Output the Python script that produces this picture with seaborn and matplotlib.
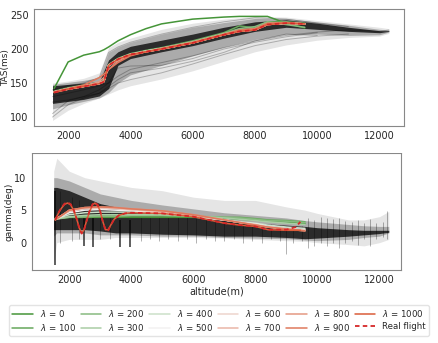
import numpy as np
import matplotlib
matplotlib.use("Agg")
import matplotlib.pyplot as plt
import seaborn as sns
from matplotlib.patches import Rectangle

# ---- data ----
lambdas = [0, 100, 200, 300, 400, 500, 600, 700, 800, 900, 1000]

# black cloud of simulated flights, TAS panel (outer / mid / core envelopes)
band_alt = [1500, 2000, 2500, 3000, 3300, 3600, 4000, 5000, 6000, 7000, 8000, 9000, 10000, 11000, 12000, 12300]
tas_outer_lo = [95, 110, 120, 128, 134, 140, 146, 156, 168, 182, 196, 206, 213, 217, 219, 223]
tas_outer_hi = [150, 153, 157, 165, 202, 210, 216, 229, 238, 244, 248, 247, 242, 237, 232, 230]
tas_mid_lo = [112, 118, 123, 128, 136, 150, 162, 176, 190, 203, 214, 222, 222, 220, 221, 225]
tas_mid_hi = [148, 151, 154, 158, 195, 203, 210, 222, 232, 239, 245, 245, 240, 235, 229, 228]
tas_core_lo = [120, 123, 126, 131, 142, 176, 186, 196, 205, 216, 226, 232, 229, 226, 224, 226]
tas_core_hi = [146, 148, 150, 152, 184, 196, 204, 213, 222, 232, 240, 243, 238, 232, 227, 227]

# a few single grey flights (0 = flight already ended)
tas_trace_a = [100, 118, 128, 135, 142, 150, 155, 165, 178, 192, 205, 214, 219, 222, 0, 0]
tas_trace_b = [130, 135, 140, 146, 150, 160, 170, 180, 190, 202, 212, 220, 225, 228, 226, 228]
tas_trace_c = [140, 146, 150, 158, 195, 203, 210, 222, 232, 240, 246, 244, 238, 233, 0, 0]
tas_trace_d = [122, 125, 130, 135, 145, 155, 165, 172, 182, 195, 212, 222, 220, 0, 0, 0]
tas_trace_e = [105, 124, 130, 140, 150, 172, 175, 176, 186, 200, 210, 218, 224, 0, 0, 0]

# black cloud, gamma panel
g_alt = [1500, 1600, 2000, 2500, 3000, 3500, 4000, 5000, 6000, 7000, 8000, 9000, 9600, 10000, 11000, 11500, 12000, 12300]
g_outer_lo = [-3, 0, 0.5, 0.5, 0.5, 0.8, 0.8, 0.8, 0.8, 0.7, 0.5, 0.3, 0.2, 0.0, -0.3, -0.5, 0, 0.5]
g_outer_hi = [11, 13, 11, 10, 9.5, 9, 8.5, 8, 7, 6.5, 6.5, 5.5, 5, 4.5, 3.5, 3.5, 4, 4.8]
g_mid_lo = [1, 1.5, 1.5, 1.5, 1.2, 1.2, 1.2, 1.0, 1.0, 0.8, 0.7, 0.6, 0.4, 0.3, 0.5, 0.8, 1.0, 1.5]
g_mid_hi = [10, 10, 9.5, 8.5, 7.5, 7, 6.5, 5.8, 5.2, 4.6, 4.2, 3.8, 3.4, 3.2, 2.8, 2.6, 2.5, 2.5]
g_core_lo = [2, 2, 2, 2, 1.8, 1.5, 1.5, 1.3, 1.2, 1.0, 1.0, 0.8, 0.6, 0.7, 1.0, 1.2, 1.4, 1.6]
g_core_hi = [8.5, 8.5, 8, 7, 6, 5.5, 5, 4.4, 3.9, 3.4, 3.0, 2.7, 2.5, 2.3, 2.0, 1.9, 1.9, 1.9]

# spikes of the gamma cloud
spike_dark_alt = [1530, 2480, 2760, 3640, 3960]
spike_dark_low = [-3.5, -0.5, -0.6, -0.6, -0.6]
spike_dark_top = [8, 4, 4, 3.5, 3.5]
spike_alt = [1700, 2100, 2300, 3000, 3300, 4300, 4600, 4900, 5200, 5500, 5800, 6100, 6400, 6700,
             7000, 7300, 7600, 7900, 8200, 8500, 8800, 9000, 9200, 9500, 9700, 9900, 10100, 10300,
             10500, 10700, 10900, 11100, 11300, 11500, 11700, 11900, 12100, 12250]
spike_low = [0, 0.3, 0.5, 0.5, 0.5, 0.3, 0.5, 0.2, 0.5, 0.3, 0.5, 0, 0.5, 0.2,
             0.3, 0.5, 0, 0.3, 0, 0.5, 0.2, -1.8, 0, 0.3, -0.8, -0.5, 0, -0.5,
             0, -0.8, 0, 0.3, -0.3, 0.5, -0.5, 0.5, 0.8, 0.5]
spike_top = [8, 7, 6.5, 6, 5.5, 5, 5, 4.6, 4.4, 4.2, 4, 3.8, 3.6, 3.4,
             3.3, 3.2, 3, 3, 2.8, 2.8, 2.7, 2.6, 2.6, 2.5, 3.8, 3.5, 4, 3.8,
             3.6, 3.8, 3.4, 3.2, 3.5, 3, 3.6, 3, 3.2, 4.8]

# lambda-regularised solutions and real flight, TAS
lam_alt = [1550, 2000, 2500, 3000, 3150, 3300, 3600, 4000, 4500, 5000, 6000, 7000, 7500, 8000, 8400, 9000, 9600]
tas_real = [136, 141, 145, 149, 152, 176, 185, 192, 196, 200, 209, 221, 226, 228, 236, 238, 237]
tas_by_lambda = [
    [142, 181, 191, 196, 199, 203, 212, 221, 230, 237, 244, 247, 248, 248, 248, 238, 231],  # 0
    [138, 143, 147, 151, 154, 177, 186, 193, 198, 202, 212, 224, 234, 231, 240, 240, 238],  # 100
    [137, 142, 146, 150, 153, 177, 186, 193, 197, 201, 211, 223, 230, 233, 240, 236, 232],  # 200
    [137, 142, 146, 150, 153, 176, 185, 192, 197, 201, 210, 222, 228, 230, 238, 239, 237],  # 300
    [137, 142, 146, 150, 153, 176, 185, 192, 197, 201, 210, 222, 227, 229, 237, 238, 237],  # 400
    [137, 141, 145, 149, 152, 176, 185, 192, 196, 200, 209, 221, 226, 228, 236, 238, 237],  # 500
    [137, 141, 145, 149, 152, 176, 185, 192, 196, 200, 209, 221, 226, 228, 236, 238, 237],  # 600
    [137, 141, 145, 150, 153, 175, 184, 192, 196, 200, 209, 221, 226, 228, 236, 238, 237],  # 700
    [137, 141, 145, 152, 158, 170, 182, 191, 196, 200, 209, 221, 227, 229, 237, 238, 237],  # 800
    [137, 142, 147, 158, 163, 170, 180, 190, 196, 201, 210, 222, 228, 230, 238, 239, 237],  # 900
    [136, 141, 145, 149, 152, 176, 185, 192, 196, 200, 209, 221, 226, 228, 236, 238, 237],  # 1000
]

# gamma: real flight and lambda = 1000 on a fine grid (they oscillate)
gam_real_alt = [1550, 1650, 1750, 1850, 1950, 2050, 2150, 2250, 2330, 2400, 2470, 2550, 2650, 2750,
                2830, 2920, 3000, 3080, 3170, 3260, 3350, 3450, 3600, 3800, 4000, 5000, 6000, 7000,
                7500, 8000, 8400, 9000, 9300, 9450]
gam_real = [3.5, 4.6, 5.4, 6.0, 6.2, 5.9, 5.0, 3.5, 2.1, 1.4, 1.8, 3.2, 4.8, 5.9,
            6.2, 5.8, 4.8, 3.3, 1.9, 1.9, 2.8, 3.6, 4.2, 4.5, 4.6, 4.5, 4.0, 3.0,
            2.7, 2.5, 2.0, 2.0, 2.4, 3.2]
gam_l1000 = [3.5, 4.5, 5.3, 5.9, 6.1, 5.8, 4.9, 3.5, 2.2, 1.5, 1.9, 3.2, 4.7, 5.8,
             6.1, 5.7, 4.8, 3.3, 2.0, 2.0, 2.8, 3.6, 4.2, 4.5, 4.6, 4.5, 4.0, 3.0,
             2.7, 2.5, 2.0, 1.9, 1.9, 1.9]

# gamma: smooth lambda solutions 0..900
gam_alt = [1550, 2000, 2500, 3000, 3500, 4000, 5000, 6000, 7000, 7500, 8000, 8400, 9000, 9600]
gam_by_lambda = [
    [3.8, 3.9, 3.9, 3.9, 3.9, 3.9, 3.9, 3.9, 3.8, 3.6, 3.5, 3.4, 3.2, 2.9],  # 0
    [3.7, 3.9, 3.9, 4.0, 4.0, 4.1, 4.1, 4.0, 3.9, 3.9, 3.7, 3.5, 3.4, 3.2],  # 100
    [3.6, 3.9, 4.0, 4.1, 4.1, 4.2, 4.2, 4.1, 3.9, 3.8, 3.6, 3.4, 3.3, 3.1],  # 200
    [3.6, 4.0, 4.2, 4.3, 4.3, 4.3, 4.3, 4.1, 3.8, 3.6, 3.4, 3.2, 3.0, 2.8],  # 300
    [3.6, 4.3, 4.6, 4.7, 4.7, 4.7, 4.5, 4.1, 3.5, 3.2, 3.0, 2.7, 2.4, 2.2],  # 400
    [3.6, 4.6, 5.0, 5.1, 5.0, 4.9, 4.6, 4.1, 3.5, 3.1, 2.9, 2.5, 2.2, 2.0],  # 500
    [3.6, 4.8, 5.2, 5.3, 5.2, 5.0, 4.7, 4.2, 3.5, 3.1, 2.8, 2.4, 2.1, 1.9],  # 600
    [3.6, 4.9, 5.3, 5.4, 5.3, 5.1, 4.8, 4.2, 3.5, 3.1, 2.8, 2.4, 2.1, 1.9],  # 700
    [3.5, 5.0, 5.4, 5.5, 5.4, 5.2, 4.9, 4.3, 3.5, 3.1, 2.7, 2.4, 2.1, 1.8],  # 800
    [3.5, 5.0, 5.4, 5.5, 5.4, 5.2, 4.9, 4.3, 3.5, 3.1, 2.7, 2.4, 2.1, 1.8],  # 900
]

# ---- plotting ----
sns.set_style("white")
plt.rcParams["font.family"] = ["DejaVu Sans"]

fig = plt.figure(figsize=(4.38, 3.43), dpi=100)
ax1 = fig.add_axes([0.078, 0.633, 0.844, 0.341])
ax2 = fig.add_axes([0.073, 0.213, 0.843, 0.341])

colors = sns.diverging_palette(125, 20, s=80, l=55, n=11, center="light")
real_kw = dict(color="#d62728", lw=1.3, ls=(0, (2.5, 1.8)))


def trace(x, y):
    x = np.array(x, dtype=float)
    y = np.array(y, dtype=float)
    keep = y > 0
    return x[keep], y[keep]


# TAS panel
ax1.fill_between(band_alt, tas_outer_lo, tas_outer_hi, color="black", alpha=0.1, lw=0)
ax1.fill_between(band_alt, tas_mid_lo, tas_mid_hi, color="black", alpha=0.25, lw=0)
ax1.fill_between(band_alt, tas_core_lo, tas_core_hi, color="black", alpha=0.75, lw=0)
for tr in [tas_trace_a, tas_trace_b, tas_trace_c, tas_trace_d, tas_trace_e]:
    ax1.plot(*trace(band_alt, tr), color="black", alpha=0.25, lw=0.7)
handles = []
for lam, col, vals in zip(lambdas, colors, tas_by_lambda):
    h, = ax1.plot(lam_alt, vals, color=col, lw=1.1, label=r"$\lambda$ = %d" % lam)
    handles.append(h)
h_real, = ax1.plot(lam_alt, tas_real, label="Real flight", **real_kw)
handles.append(h_real)

ax1.set_ylabel("TAS(ms)", fontsize=6.5)
ax1.yaxis.set_label_coords(-0.064, 0.5)
ax1.set_xlabel("altitude(m)", fontsize=7, labelpad=2)
ax1.set_yticks([100, 150, 200, 250])
ax1.set_xticks([2000, 4000, 6000, 8000, 10000, 12000])
ax1.set_xlim(910, 12780)
ax1.set_ylim(87, 259)

# gamma panel
ax2.fill_between(g_alt, g_outer_lo, g_outer_hi, color="black", alpha=0.1, lw=0)
ax2.vlines(spike_alt, spike_low, spike_top, color="black", alpha=0.3, lw=0.7)
ax2.fill_between(g_alt, g_mid_lo, g_mid_hi, color="black", alpha=0.25, lw=0)
ax2.fill_between(g_alt, g_core_lo, g_core_hi, color="black", alpha=0.75, lw=0)
ax2.vlines(spike_dark_alt, spike_dark_low, spike_dark_top, color="black", alpha=0.8, lw=1.1)
for lam, col, vals in zip(lambdas[:-1], colors[:-1], gam_by_lambda):
    ax2.plot(gam_alt, vals, color=col, lw=1.1)
ax2.plot(gam_real_alt, gam_l1000, color=colors[-1], lw=1.1)
ax2.plot(gam_real_alt, gam_real, **real_kw)

ax2.set_ylabel("gamma(deg)", fontsize=6.5)
ax2.yaxis.set_label_coords(-0.049, 0.5)
ax2.set_xlabel("altitude(m)", fontsize=7, labelpad=1)
ax2.set_yticks([0, 5, 10])
ax2.set_xticks([2000, 4000, 6000, 8000, 10000, 12000])
ax2.set_xlim(800, 12700)
ax2.set_ylim(-4.2, 13.8)

for ax in (ax1, ax2):
    ax.tick_params(labelsize=7, length=2, pad=2)
    for sp in ax.spines.values():
        sp.set_color("#888888")
        sp.set_linewidth(0.8)

# the first x label is mostly hidden behind the second panel in the reference
fig.patches.append(Rectangle((0.0, 0.554), 1.0, 0.024, transform=fig.transFigure,
                             facecolor="white", edgecolor="none", zorder=5))

fig.legend(handles=handles, loc="lower left", bbox_to_anchor=(0.011, 0.008, 0.978, 0.08),
           mode="expand", ncol=6, fontsize=6.2, handlelength=2.4, columnspacing=1.0,
           labelspacing=0.3, borderpad=0.35, frameon=True, fancybox=True, edgecolor="#dddddd")

fig.savefig("out.png", dpi=100)
